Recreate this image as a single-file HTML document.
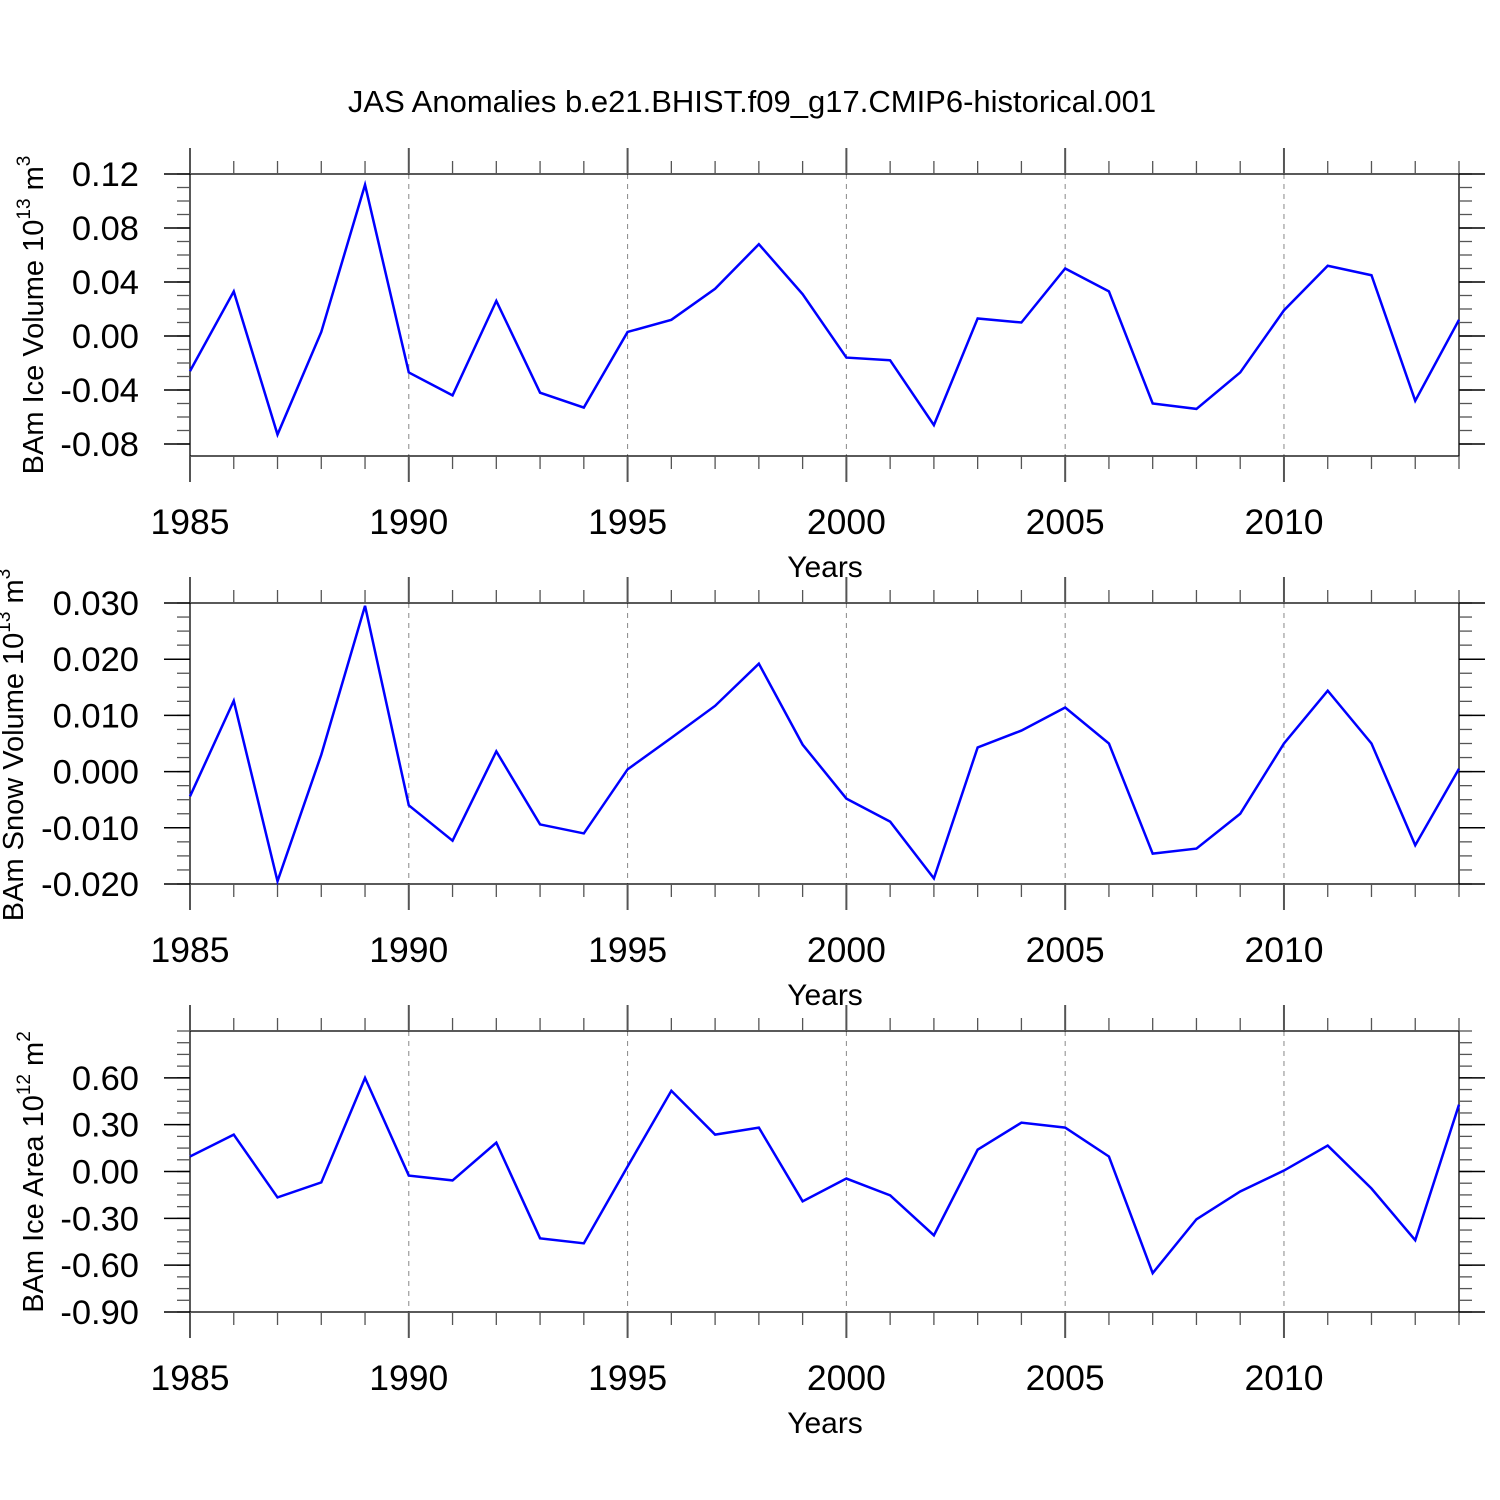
<!DOCTYPE html>
<html><head><meta charset="utf-8"><style>
html,body{margin:0;padding:0;background:#fff}
svg{display:block;font-family:"Liberation Sans",sans-serif}
</style></head><body>
<svg id="chart" width="1500" height="1500" viewBox="0 0 1500 1500" xmlns="http://www.w3.org/2000/svg">
<text x="752" y="112" font-size="31" text-anchor="middle">JAS Anomalies b.e21.BHIST.f09_g17.CMIP6-historical.001</text>
</svg>
<script>
const years = [1985,1986,1987,1988,1989,1990,1991,1992,1993,1994,1995,1996,1997,1998,1999,2000,2001,2002,2003,2004,2005,2006,2007,2008,2009,2010,2011,2012,2013,2014];
const iceVolume = [-0.026,0.033,-0.073,0.003,0.112,-0.027,-0.044,0.026,-0.042,-0.053,0.003,0.012,0.035,0.068,0.031,-0.016,-0.018,-0.066,0.013,0.010,0.050,0.033,-0.050,-0.054,-0.027,0.019,0.052,0.045,-0.048,0.012];
const snowVolume = [-0.0044,0.0126,-0.0195,0.003,0.0295,-0.006,-0.0123,0.0036,-0.0094,-0.011,0.0004,0.006,0.0117,0.0192,0.0048,-0.0048,-0.0089,-0.019,0.0043,0.0073,0.0114,0.005,-0.0146,-0.0137,-0.0075,0.005,0.0144,0.005,-0.0131,0.0005];
const iceArea = [0.096,0.236,-0.166,-0.07,0.60,-0.026,-0.057,0.185,-0.428,-0.46,0.032,0.517,0.236,0.281,-0.191,-0.045,-0.153,-0.409,0.14,0.313,0.281,0.096,-0.651,-0.306,-0.128,0.006,0.166,-0.109,-0.44,0.428];
const xTickLabels = ["1985","1990","1995","2000","2005","2010"];
const iceVolTicks = ["-0.08","-0.04","0.00","0.04","0.08","0.12"];
const snowVolTicks = ["-0.020","-0.010","0.000","0.010","0.020","0.030"];
const iceAreaTicks = ["-0.90","-0.60","-0.30","0.00","0.30","0.60"];

const NS="http://www.w3.org/2000/svg";
const svg=document.getElementById('chart');
function mk(tag,attrs,parent){const e=document.createElementNS(NS,tag);for(const k in attrs)e.setAttribute(k,attrs[k]);(parent||svg).appendChild(e);return e;}
const X0=190,X1=1459,yr0=1985,yr1=2014;
const xs=v=>X0+(v-yr0)*(X1-X0)/(yr1-yr0);

function panel(o){
  const g=mk('g',{});
  
  
  const ys=v=>o.top+(o.vmax-v)*(o.bot-o.top)/(o.vmax-o.vmin);
  xTickLabels.forEach(t=>{const y=+t;if(y>yr0&&y<yr1){const l=mk('line',{x1:xs(y),x2:xs(y),y1:o.top,y2:o.bot,stroke:'#888','stroke-width':1,'stroke-dasharray':'5,5'},g);
    
    }});
  const b=mk('rect',{x:X0,y:o.top,width:X1-X0,height:o.bot-o.top,fill:'none',stroke:'#000','stroke-width':1.3},g);
  
  
  for(let y=yr0;y<=yr1;y++){const maj=(y%5===0);const L=maj?26:13;const x=xs(y);
    mk('line',{x1:x,x2:x,y1:o.top,y2:o.top-L,stroke:'#555','stroke-width':maj?2:1.3},g);
    mk('line',{x1:x,x2:x,y1:o.bot,y2:o.bot+L,stroke:'#555','stroke-width':maj?2:1.3},g);}
  xTickLabels.forEach(t=>{const tx=mk('text',{x:xs(+t),y:o.bot+78,'font-size':35.5,'text-anchor':'middle'},g);tx.textContent=t;
    
    });
  const xt=mk('text',{x:825,y:o.bot+121,'font-size':30,'text-anchor':'middle'},g);xt.textContent='Years';
  
  
  for(let v=o.minStart;v<=o.vmax+1e-9;v+=o.minor){const y=ys(v);if(y<o.top-0.5||y>o.bot+0.5)continue;
    mk('line',{x1:X0,x2:X0-13,y1:y,y2:y,stroke:'#555','stroke-width':1.3},g);
    mk('line',{x1:X1,x2:X1+13,y1:y,y2:y,stroke:'#555','stroke-width':1.3},g);}
  o.ticks.forEach(t=>{const y=ys(+t);
    mk('line',{x1:X0,x2:X0-26,y1:y,y2:y,stroke:'#000','stroke-width':1.5},g);
    mk('line',{x1:X1,x2:X1+26,y1:y,y2:y,stroke:'#000','stroke-width':1.5},g);
    const tx=mk('text',{x:139,y:y+12,'font-size':34.5,'text-anchor':'end'},g);tx.textContent=t;
    
    });
  const yt=mk('text',{transform:`translate(${o.tx},${o.ty}) rotate(-90)`,'font-size':29,'text-anchor':'middle'},g);
  yt.innerHTML=o.title;
  
  
  const p=mk('polyline',{points:o.data.map((v,i)=>xs(years[i])+','+ys(v)).join(' '),fill:'none',stroke:'#0000ff','stroke-width':2.5,'stroke-linejoin':'miter'},g);
  
  
}
panel({name:'ice-volume-panel',top:174,bot:456,vmax:0.12,vmin:0.12-282*0.04/54,minor:0.01,minStart:-0.08,ticks:iceVolTicks,data:iceVolume,tx:43,ty:315,
  title:'BAm Ice Volume 10<tspan dy="-13" font-size="19">13</tspan><tspan dy="13"> m</tspan><tspan dy="-13" font-size="19">3</tspan>'});
panel({name:'snow-volume-panel',top:603,bot:884,vmax:0.030,vmin:-0.020,minor:0.0025,minStart:-0.020,ticks:snowVolTicks,data:snowVolume,tx:23,ty:745,
  title:'BAm Snow Volume 10<tspan dy="-13" font-size="19">13</tspan><tspan dy="13"> m</tspan><tspan dy="-13" font-size="19">3</tspan>'});
panel({name:'ice-area-panel',top:1031,bot:1312,vmax:0.90,vmin:-0.90,minor:0.075,minStart:-0.90,ticks:iceAreaTicks,data:iceArea,tx:43,ty:1172,
  title:'BAm Ice Area 10<tspan dy="-13" font-size="19">12</tspan><tspan dy="13"> m</tspan><tspan dy="-13" font-size="19">2</tspan>'});
</script>
</body></html>
